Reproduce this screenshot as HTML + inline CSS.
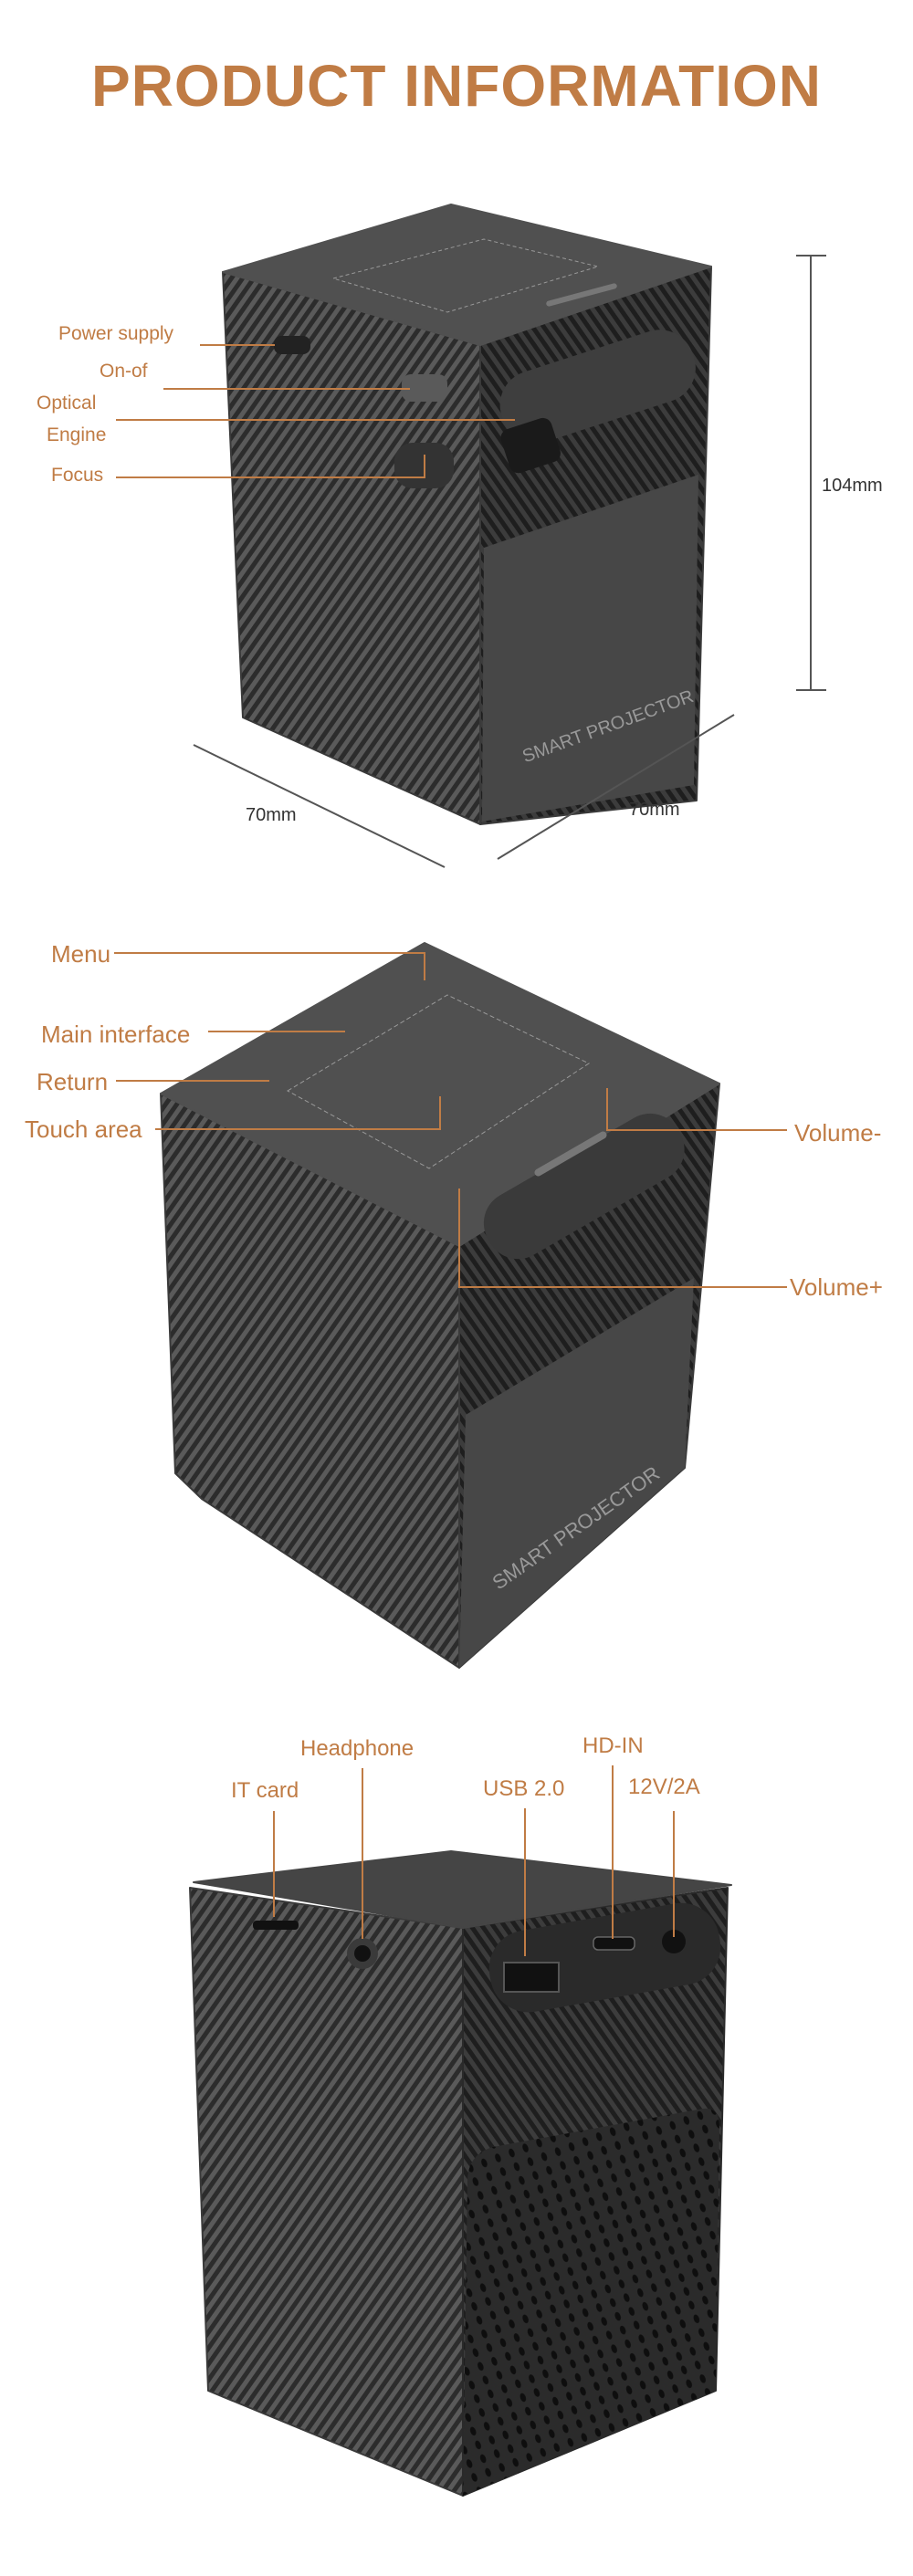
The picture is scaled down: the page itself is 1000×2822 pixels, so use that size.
<!DOCTYPE html>
<html><head><meta charset="utf-8"><style>
html,body{margin:0;padding:0;background:#fff;}
svg{display:block;}
.t{font-family:"Liberation Sans",sans-serif;fill:#c07c45;}
</style></head><body>
<svg width="1000" height="2822" viewBox="0 0 1000 2822" xmlns="http://www.w3.org/2000/svg">
<defs>
<pattern id="st" width="10" height="10" patternUnits="userSpaceOnUse" patternTransform="rotate(35)">
<rect width="10" height="10" fill="#5a5a5a"/><rect width="5" height="10" fill="#2c2c2c"/></pattern>
<pattern id="st2" width="10" height="10" patternUnits="userSpaceOnUse" patternTransform="rotate(-35)">
<rect width="10" height="10" fill="#3c3c3c"/><rect width="5" height="10" fill="#1e1e1e"/></pattern>
<pattern id="dots" width="16" height="16" patternUnits="userSpaceOnUse" patternTransform="rotate(-20)">
<rect width="16" height="16" fill="#2b2b2b"/><ellipse cx="8" cy="8" rx="3" ry="5" fill="#0e0e0e"/></pattern>
</defs>

<text class="t" x="500" y="116" text-anchor="middle" font-size="64" font-weight="bold" letter-spacing="1">PRODUCT INFORMATION</text>

<!-- Projector 1 -->
<g stroke-linejoin="round">
<polygon points="244,298 526,378 526,903 266,786" fill="url(#st)" stroke="#3a3a3a" stroke-width="2"/>
<polygon points="526,378 779,292 763,877 526,903" fill="url(#st2)" stroke="#3a3a3a" stroke-width="2"/>
<polygon points="530,600 765,520 760,860 528,900" fill="#474747"/>
<polygon points="244,298 494,224 779,292 526,378" fill="#505050" stroke="#505050" stroke-width="2"/>
</g>
<rect x="545" y="385" width="220" height="80" rx="38" fill="#3e3e3e" transform="rotate(-18 650 425)"/>
<rect x="553" y="462" width="58" height="50" rx="10" fill="#1a1a1a" transform="rotate(-18 585 490)"/>
<polygon points="365,305 530,262 655,292 490,342" fill="none" stroke="#999" stroke-dasharray="4 3"/>
<rect x="597" y="320" width="80" height="6" rx="3" fill="#777" transform="rotate(-15 637 323)"/>
<rect x="440" y="410" width="50" height="30" rx="10" fill="#5a5a5a"/>
<rect x="432" y="485" width="65" height="50" rx="20" fill="#333"/>
<rect x="300" y="368" width="40" height="20" rx="8" fill="#222"/>
<text x="560" y="810" font-family="Liberation Sans,sans-serif" font-size="20" fill="#999" transform="rotate(-20 640 780)">SMART PROJECTOR</text>
<g stroke="#c07c45" stroke-width="2" fill="none">
<line x1="219" y1="378" x2="301" y2="378"/>
<line x1="179" y1="426" x2="449" y2="426"/>
<line x1="127" y1="460" x2="564" y2="460"/>
<polyline points="127,523 465,523 465,498"/>
</g>
<text class="t" x="64" y="372" font-size="21">Power supply</text>
<text class="t" x="109" y="413" font-size="21">On-of</text>
<text class="t" x="40" y="448" font-size="21">Optical</text>
<text class="t" x="51" y="483" font-size="21">Engine</text>
<text class="t" x="56" y="527" font-size="21">Focus</text>
<g stroke="#555" stroke-width="2">
<line x1="888" y1="280" x2="888" y2="756"/><line x1="872" y1="280" x2="905" y2="280"/><line x1="872" y1="756" x2="905" y2="756"/>
<line x1="212" y1="816" x2="487" y2="950"/><line x1="545" y1="941" x2="804" y2="783"/>
</g>
<text x="900" y="538" font-family="Liberation Sans,sans-serif" font-size="20" fill="#333">104mm</text>
<text x="269" y="899" font-family="Liberation Sans,sans-serif" font-size="20" fill="#333">70mm</text>
<text x="689" y="893" font-family="Liberation Sans,sans-serif" font-size="20" fill="#333">70mm</text>

<!-- Projector 2 -->
<g stroke-linejoin="round">
<polygon points="176,1198 503,1365 503,1827 221,1642 192,1614" fill="url(#st)" stroke="#3a3a3a" stroke-width="2"/>
<polygon points="503,1365 788,1187 750,1608 503,1827" fill="url(#st2)" stroke="#3a3a3a" stroke-width="2"/>
<polygon points="510,1550 760,1400 750,1608 503,1827" fill="#474747"/>
<polygon points="176,1198 465,1033 788,1187 503,1365" fill="#505050" stroke="#505050" stroke-width="2"/>
</g>
<rect x="520" y="1262" width="240" height="75" rx="35" fill="#3a3a3a" transform="rotate(-30 640 1300)"/>
<polygon points="315,1195 490,1090 645,1165 470,1280" fill="none" stroke="#999" stroke-dasharray="5 3"/>
<rect x="580" y="1260" width="90" height="8" rx="4" fill="#777" transform="rotate(-30 625 1264)"/>
<text x="520" y="1700" font-family="Liberation Sans,sans-serif" font-size="22" fill="#999" transform="rotate(-35 600 1680)">SMART PROJECTOR</text>
<g stroke="#c07c45" stroke-width="2" fill="none">
<polyline points="125,1044 465,1044 465,1074"/>
<line x1="228" y1="1130" x2="378" y2="1130"/>
<line x1="127" y1="1184" x2="295" y2="1184"/>
<polyline points="170,1237 482,1237 482,1201"/>
<polyline points="862,1238 665,1238 665,1192"/>
<polyline points="862,1410 503,1410 503,1302"/>
</g>
<text class="t" x="56" y="1054" font-size="26">Menu</text>
<text class="t" x="45" y="1142" font-size="26">Main interface</text>
<text class="t" x="40" y="1194" font-size="26">Return</text>
<text class="t" x="27" y="1246" font-size="26">Touch area</text>
<text class="t" x="870" y="1250" font-size="26">Volume-</text>
<text class="t" x="865" y="1419" font-size="26">Volume+</text>

<!-- Projector 3 -->
<g stroke-linejoin="round">
<polygon points="208,2068 507,2112 507,2734 228,2619" fill="url(#st)" stroke="#3a3a3a" stroke-width="2"/>
<polygon points="507,2112 797,2068 784,2619 507,2734" fill="url(#st2)" stroke="#2a2a2a" stroke-width="2"/>
<path d="M512,2390 Q512,2360 540,2352 L770,2310 Q788,2308 788,2330 L784,2619 L507,2734 Z" fill="url(#dots)"/>
<polygon points="212,2062 494,2028 801,2065 507,2112" fill="#454545" stroke="#454545" stroke-width="2"/>
</g>
<rect x="535" y="2100" width="255" height="90" rx="42" fill="#2a2a2a" transform="rotate(-10 660 2145)"/>
<rect x="552" y="2150" width="60" height="32" fill="#111" stroke="#555" stroke-width="2"/>
<rect x="650" y="2122" width="45" height="14" rx="5" fill="#111" stroke="#666" stroke-width="1.5"/>
<circle cx="738" cy="2127" r="13" fill="#111"/>
<circle cx="397" cy="2140" r="17" fill="#3a3a3a"/><circle cx="397" cy="2140" r="9" fill="#111"/>
<rect x="277" y="2104" width="50" height="10" rx="4" fill="#111"/>
<g stroke="#c07c45" stroke-width="2">
<line x1="300" y1="1984" x2="300" y2="2100"/>
<line x1="397" y1="1937" x2="397" y2="2124"/>
<line x1="575" y1="1981" x2="575" y2="2143"/>
<line x1="671" y1="1934" x2="671" y2="2124"/>
<line x1="738" y1="1984" x2="738" y2="2122"/>
</g>
<text class="t" x="329" y="1923" font-size="24">Headphone</text>
<text class="t" x="253" y="1969" font-size="24">IT card</text>
<text class="t" x="529" y="1967" font-size="24">USB 2.0</text>
<text class="t" x="638" y="1920" font-size="24">HD-IN</text>
<text class="t" x="688" y="1965" font-size="24">12V/2A</text>
</svg>
</body></html>
